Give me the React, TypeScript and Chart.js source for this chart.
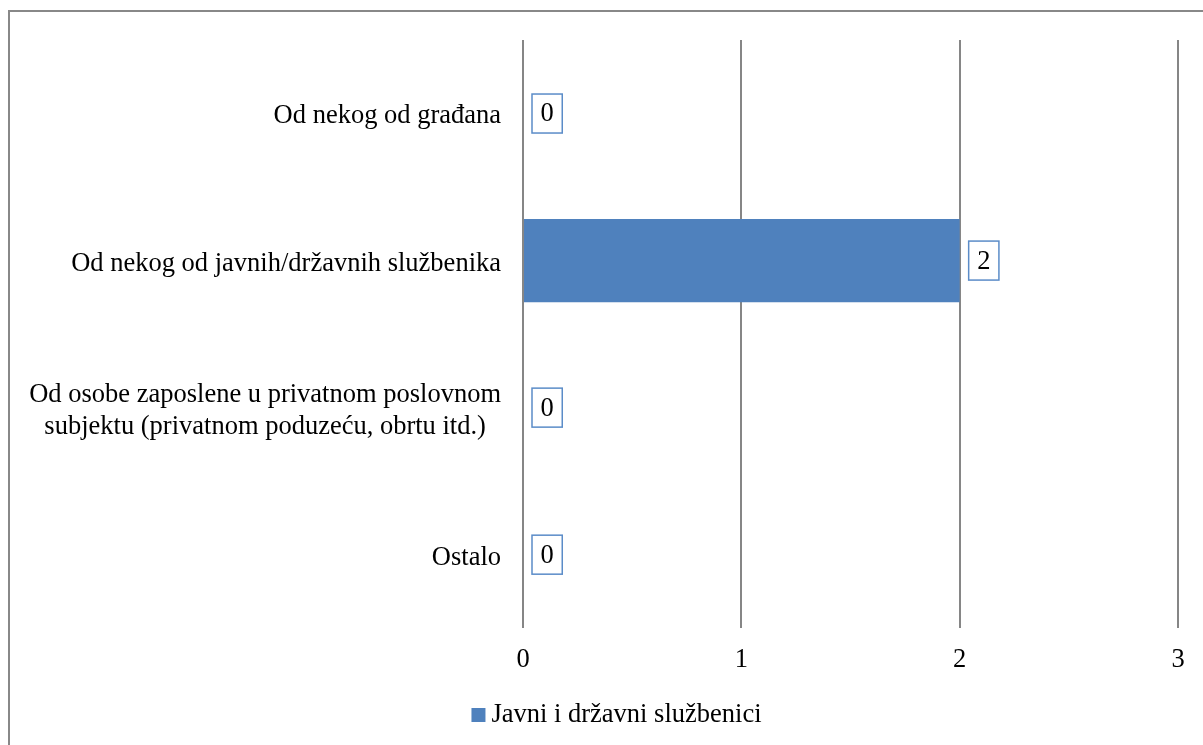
import React, { useEffect, useRef } from "react";
import { Chart, registerables } from "chart.js";

Chart.register(...registerables);

const categories: string[][] = [
  ["Od nekog od građana"],
  ["Od nekog od javnih/državnih službenika"],
  ["Od osobe zaposlene u privatnom poslovnom", "subjektu (privatnom poduzeću, obrtu itd.)"],
  ["Ostalo"],
];
const seriesName = "Javni i državni službenici";
const values = [0, 2, 0, 0];
const xMin = 0;
const xMax = 3;
const xStep = 1;

const FONT = '"Liberation Serif", "Times New Roman", serif';
const FS = 26.5;
const LH = 32;
const BAR_COLOR = "#4F81BD";
const GRID_COLOR = "#868686";

const W = 1213;
const H = 733;

const categoryLabelPlugin = {
  id: "categoryLabels",
  afterDraw(chart: any) {
    const ctx = chart.ctx;
    const yScale = chart.scales.y;
    ctx.save();
    ctx.font = `${FS}px ${FONT}`;
    ctx.fillStyle = "#000";
    ctx.textAlign = "center";
    ctx.textBaseline = "middle";
    categories.forEach((lines, i) => {
      const yc = yScale.getPixelForValue(i);
      const widths = lines.map((l) => ctx.measureText(l).width);
      const bw = Math.max(...widths);
      const right = chart.chartArea.left - 22;
      const cx = right - bw / 2;
      lines.forEach((l, j) => {
        ctx.fillText(l, cx, yc + 3 + (j - (lines.length - 1) / 2) * LH);
      });
    });
    ctx.restore();
  },
};

const dataLabelPlugin = {
  id: "boxedDataLabels",
  afterDatasetsDraw(chart: any) {
    const ctx = chart.ctx;
    const meta = chart.getDatasetMeta(0);
    ctx.save();
    ctx.font = `${FS}px ${FONT}`;
    meta.data.forEach((el: any, i: number) => {
      const txt = String(values[i]);
      const tw = ctx.measureText(txt).width;
      const bw = tw + 17;
      const bh = 39;
      const left = el.x + 9;
      const top = el.y - bh / 2;
      ctx.fillStyle = "#fff";
      ctx.fillRect(left, top, bw, bh);
      ctx.strokeStyle = "#5B8CC8";
      ctx.lineWidth = 1.5;
      ctx.strokeRect(left, top, bw, bh);
      ctx.fillStyle = "#000";
      ctx.textAlign = "center";
      ctx.textBaseline = "middle";
      ctx.fillText(txt, left + bw / 2, el.y + 1);
    });
    ctx.restore();
  },
};

const legendPlugin = {
  id: "bottomLegend",
  afterDraw(chart: any) {
    const ctx = chart.ctx;
    ctx.save();
    ctx.font = `${FS}px ${FONT}`;
    const tw = ctx.measureText(seriesName).width;
    const box = 14;
    const gap = 6;
    const total = box + gap + tw;
    const left = chart.width / 2 - total / 2;
    const yc = chart.height - 30;
    ctx.fillStyle = BAR_COLOR;
    ctx.fillRect(left, yc - box / 2, box, box);
    ctx.fillStyle = "#000";
    ctx.textAlign = "left";
    ctx.textBaseline = "middle";
    ctx.fillText(seriesName, left + box + gap, yc);
    ctx.restore();
  },
};

export default function App() {
  const ref = useRef<HTMLCanvasElement>(null);

  useEffect(() => {
    document.documentElement.style.overflow = "hidden";
    document.body.style.overflow = "hidden";
    const chart = new Chart(ref.current as HTMLCanvasElement, {
      type: "bar",
      data: {
        labels: categories.map((c) => c.join(" ")),
        datasets: [
          {
            label: seriesName,
            data: values,
            backgroundColor: BAR_COLOR,
            borderWidth: 0,
            barPercentage: 0.566,
            categoryPercentage: 1,
          },
        ],
      },
      options: {
        indexAxis: "y",
        responsive: false,
        animation: false,
        devicePixelRatio: 1,
        layout: { padding: { left: 513, right: W - 1168, top: 28, bottom: 53 } },
        plugins: {
          legend: { display: false },
          tooltip: { enabled: false },
        },
        scales: {
          y: {
            display: false,
          },
          x: {
            min: xMin,
            max: xMax,
            border: { display: false },
            grid: { color: GRID_COLOR, lineWidth: 2, drawTicks: false },
            ticks: {
              stepSize: xStep,
              color: "#000",
              padding: 16,
              font: { family: FONT, size: FS },
            },
          },
        },
      },
      plugins: [categoryLabelPlugin, dataLabelPlugin, legendPlugin],
    });
    return () => chart.destroy();
  }, []);

  return (
    <div
      style={{
        position: "fixed",
        left: 8,
        top: 10,
        width: 1230,
        height: 760,
        border: "2px solid #888",
        background: "#fff",
        overflow: "hidden",
        boxSizing: "border-box",
      }}
    >
      <canvas ref={ref} width={W} height={H} style={{ display: "block", width: W, height: H }} />
    </div>
  );
}
